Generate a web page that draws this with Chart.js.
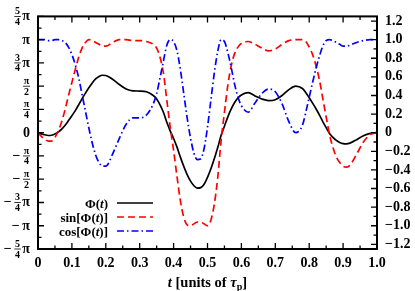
<!DOCTYPE html>
<html>
<head>
<meta charset="utf-8">
<script src="https://cdn.jsdelivr.net/npm/chart.js@4.4.0/dist/chart.umd.min.js"></script>
<style>
  html, body { margin: 0; padding: 0; background: #fff; }
</style>
</head>
<body>
<canvas id="chart" width="415" height="291"></canvas>
<script>
// time in units of the pulse duration
const t = [0, 0.01, 0.02, 0.03, 0.04, 0.05, 0.06, 0.07, 0.08, 0.09, 0.10, 0.11, 0.12, 0.13, 0.14, 0.15, 0.16, 0.17, 0.18, 0.19, 0.20,
  0.22, 0.24, 0.26, 0.28, 0.30, 0.32, 0.34,
  0.35, 0.36, 0.37, 0.38, 0.39, 0.40, 0.41, 0.42, 0.43, 0.44, 0.45, 0.46, 0.47, 0.48, 0.49, 0.50, 0.51, 0.52, 0.53, 0.54, 0.55, 0.56, 0.57, 0.58, 0.59, 0.60,
  0.62, 0.64, 0.66, 0.68, 0.70, 0.72, 0.74, 0.76, 0.78,
  0.79, 0.80, 0.81, 0.82, 0.83, 0.84, 0.85, 0.86, 0.87, 0.88, 0.89, 0.90, 0.91, 0.92,
  0.94, 0.96, 0.98, 1.00];

// Phi(t), in units of pi/4 (left axis)
const phi = [0, -0.05, -0.09, -0.12, -0.11, -0.06, 0.03, 0.15, 0.32, 0.52, 0.73, 0.95, 1.20, 1.46, 1.70, 1.93, 2.14, 2.31, 2.42, 2.47, 2.46,
  2.30, 2.07, 1.88, 1.80, 1.79, 1.76, 1.60,
  1.45, 1.20, 0.88, 0.45, 0.08, -0.25, -0.62, -1.05, -1.45, -1.80, -2.08, -2.28, -2.38, -2.36, -2.22, -1.92, -1.55, -1.12, -0.65, -0.12, 0.28, 0.68, 1.02, 1.30, 1.50, 1.62,
  1.72, 1.58, 1.45, 1.38, 1.42, 1.60, 1.85, 2.00, 1.90,
  1.72, 1.50, 1.27, 1.03, 0.77, 0.48, 0.22, -0.03, -0.20, -0.33, -0.42, -0.47, -0.48, -0.45,
  -0.30, -0.13, -0.03, 0];

// sin[Phi(t)] (right axis)
const sinPhi = [0, -0.04, -0.07, -0.09, -0.09, -0.05, 0.02, 0.12, 0.25, 0.40, 0.54, 0.68, 0.81, 0.91, 0.97, 1.0, 0.99, 0.97, 0.95, 0.93, 0.93,
  0.97, 1.0, 1.0, 0.99, 0.99, 0.98, 0.95,
  0.91, 0.81, 0.64, 0.35, 0.06, -0.19, -0.47, -0.73, -0.91, -0.99, -1.0, -0.98, -0.96, -0.96, -0.98, -1.0, -0.94, -0.77, -0.49, -0.09, 0.22, 0.51, 0.72, 0.85, 0.92, 0.96,
  0.98, 0.95, 0.91, 0.88, 0.90, 0.95, 0.99, 1.0, 1.0,
  0.98, 0.92, 0.84, 0.72, 0.57, 0.37, 0.17, -0.02, -0.16, -0.26, -0.32, -0.36, -0.37, -0.35,
  -0.23, -0.10, -0.02, 0];

// cos[Phi(t)] (right axis)
const cosPhi = [1, 1.0, 1.0, 0.99, 0.99, 1.0, 1.0, 0.99, 0.97, 0.92, 0.84, 0.73, 0.59, 0.41, 0.23, 0.05, -0.11, -0.24, -0.32, -0.36, -0.36,
  -0.23, -0.06, 0.09, 0.16, 0.16, 0.19, 0.31,
  0.42, 0.59, 0.77, 0.94, 1.0, 0.98, 0.88, 0.68, 0.42, 0.16, -0.06, -0.22, -0.29, -0.28, -0.17, 0.06, 0.35, 0.64, 0.87, 1.0, 0.98, 0.86, 0.70, 0.52, 0.38, 0.29,
  0.22, 0.32, 0.42, 0.47, 0.44, 0.31, 0.12, 0.0, 0.08,
  0.22, 0.38, 0.54, 0.69, 0.82, 0.93, 0.99, 1.0, 0.99, 0.97, 0.95, 0.93, 0.93, 0.94,
  0.97, 0.99, 1.0, 1.0];

const seriesNames = ['Φ(t)', 'sin[Φ(t)]', 'cos[Φ(t)]'];

const xTicks = [0, 0.1, 0.2, 0.3, 0.4, 0.5, 0.6, 0.7, 0.8, 0.9, 1.0];
const xTickLabels = ['0', '0.1', '0.2', '0.3', '0.4', '0.5', '0.6', '0.7', '0.8', '0.9', '1.0'];
const leftTicks = [5, 4, 3, 2, 1, 0, -1, -2, -3, -4, -5];
const leftTickLabels = ['5/4π', 'π', '3/4π', 'π/2', 'π/4', '0', '−π/4', '−π/2', '−3/4π', '−π', '−5/4π'];
const rightTicks = [1.2, 1.0, 0.8, 0.6, 0.4, 0.2, 0, -0.2, -0.4, -0.6, -0.8, -1.0, -1.2];
const rightTickLabels = ['1.2', '1.0', '0.8', '0.6', '0.4', '0.2', '0', '−0.2', '−0.4', '−0.6', '−0.8', '−1.0', '−1.2'];

const SERIF = '"Liberation Serif", "DejaVu Serif", serif';
function fontOf(size, italic) {
  return (italic ? 'italic ' : '') + 'bold ' + size + 'px ' + SERIF;
}

// draw a list of text runs, measured first so they can be aligned
function drawRuns(ctx, runs, x, y, align) {
  let w = 0;
  runs.forEach(r => {
    ctx.font = fontOf(r.size || 13, r.italic);
    r.w = ctx.measureText(r.s).width;
    w += r.w;
  });
  let cx = align === 'right' ? x - w : align === 'center' ? x - w / 2 : x;
  ctx.textAlign = 'left';
  ctx.textBaseline = 'alphabetic';
  runs.forEach(r => {
    ctx.font = fontOf(r.size || 13, r.italic);
    ctx.fillText(r.s, cx, y + (r.dy || 0));
    cx += r.w;
  });
}

// legend text: the variable t is italic
function mathRuns(str) {
  return str.split(/(t)/).filter(s => s.length).map(s => ({ s: s, italic: s === 't' }));
}

// left tick labels with stacked fractions like 3/4 π
function drawPiLabel(ctx, label, xRight, y) {
  let neg = label.startsWith('−');
  let body = neg ? label.slice(1) : label;
  let x = xRight;
  ctx.textAlign = 'left';
  ctx.textBaseline = 'alphabetic';
  if (body.indexOf('/') < 0) {
    ctx.font = fontOf(14, false);
    let w = ctx.measureText(body).width;
    x -= w;
    ctx.fillText(body, x, y + 4.5);
  } else {
    let parts = body.split('/');
    let num = parts[0];
    let den = parts[1].replace('π', '');
    let suffix = parts[1].endsWith('π') ? 'π' : '';
    if (suffix) {
      ctx.font = fontOf(14, false);
      let w = ctx.measureText(suffix).width;
      x -= w;
      ctx.fillText(suffix, x, y + 4);
      x -= 1.5;
    }
    ctx.font = fontOf(10, false);
    let wn = ctx.measureText(num).width;
    let wd = ctx.measureText(den).width;
    let fw = Math.max(wn, wd) + 1.5;
    let fx = x - fw;
    ctx.fillText(num, fx + (fw - wn) / 2, y - 2);
    ctx.fillText(den, fx + (fw - wd) / 2, y + 8.5);
    ctx.fillRect(fx, y - 0.4, fw, 0.8);
    x = fx;
  }
  if (neg) {
    ctx.font = fontOf(14, false);
    let w = ctx.measureText('−').width;
    ctx.fillText('−', x - w - 2.5, y + 4);
  }
}

const framePlugin = {
  id: 'frame',
  afterDraw(chart) {
    const ctx = chart.ctx;
    const a = chart.chartArea;
    const xs = chart.scales.x, yl = chart.scales.y, yr = chart.scales.y2;
    ctx.save();
    ctx.fillStyle = '#000';
    ctx.strokeStyle = '#000';

    // tick marks, pointing inwards on all four sides
    ctx.lineWidth = 1.3;
    ctx.beginPath();
    const major = 6, minor = 3.5;
    xTicks.forEach((v, i) => {
      const px = xs.getPixelForValue(v);
      ctx.moveTo(px, a.bottom); ctx.lineTo(px, a.bottom - major);
      ctx.moveTo(px, a.top); ctx.lineTo(px, a.top + major);
      if (i < xTicks.length - 1) {
        const pm = xs.getPixelForValue((v + xTicks[i + 1]) / 2);
        ctx.moveTo(pm, a.bottom); ctx.lineTo(pm, a.bottom - minor);
        ctx.moveTo(pm, a.top); ctx.lineTo(pm, a.top + minor);
      }
    });
    leftTicks.forEach((v, i) => {
      const py = yl.getPixelForValue(v);
      ctx.moveTo(a.left, py); ctx.lineTo(a.left + major, py);
      if (i < leftTicks.length - 1) {
        const pm = yl.getPixelForValue((v + leftTicks[i + 1]) / 2);
        ctx.moveTo(a.left, pm); ctx.lineTo(a.left + minor, pm);
      }
    });
    rightTicks.forEach((v, i) => {
      const py = yr.getPixelForValue(v);
      ctx.moveTo(a.right, py); ctx.lineTo(a.right - major, py);
      if (i < rightTicks.length - 1) {
        const pm = yr.getPixelForValue((v + rightTicks[i + 1]) / 2);
        ctx.moveTo(a.right, pm); ctx.lineTo(a.right - minor, pm);
      }
    });
    ctx.stroke();

    ctx.lineWidth = 2;
    ctx.strokeRect(a.left, a.top, a.right - a.left, a.bottom - a.top);

    // left axis labels in multiples of pi
    leftTicks.forEach((v, i) => {
      drawPiLabel(ctx, leftTickLabels[i], a.left - 8, yl.getPixelForValue(v));
    });

    // x axis title
    drawRuns(ctx, [
      { s: 't', italic: true, size: 14.5 },
      { s: ' [units of ', size: 14.5 },
      { s: 'τ', italic: true, size: 14.5 },
      { s: 'p', size: 10, dy: 3 },
      { s: ']', size: 14.5 }
    ], (a.left + a.right) / 2, 287, 'center');

    // legend inside the plot, text right aligned, sample to the right
    chart.data.datasets.forEach((ds, i) => {
      const yy = 203 + i * 14;
      drawRuns(ctx, mathRuns(ds.label), 108, yy + 4.5, 'right');
      ctx.beginPath();
      ctx.lineWidth = ds.borderWidth;
      ctx.strokeStyle = ds.borderColor;
      ctx.setLineDash(ds.borderDash || []);
      ctx.moveTo(117, yy);
      ctx.lineTo(153, yy);
      ctx.stroke();
      ctx.setLineDash([]);
    });
    ctx.restore();
  }
};

const pts = arr => t.map((v, i) => ({ x: v, y: arr[i] }));

new Chart(document.getElementById('chart'), {
  type: 'line',
  data: {
    datasets: [
      { label: seriesNames[0], data: pts(phi), yAxisID: 'y', borderColor: '#000000', borderWidth: 1.7, order: 2 },
      { label: seriesNames[1], data: pts(sinPhi), yAxisID: 'y2', borderColor: '#ff0000', borderWidth: 1.7, borderDash: [7, 4], order: 1 },
      { label: seriesNames[2], data: pts(cosPhi), yAxisID: 'y2', borderColor: '#0000ff', borderWidth: 1.7, borderDash: [7, 3, 1.5, 3], order: 0 }
    ]
  },
  options: {
    responsive: false,
    animation: false,
    devicePixelRatio: 1,
    layout: { padding: { top: 15, left: 0, right: 0, bottom: 0 } },
    elements: {
      point: { radius: 0 },
      line: { cubicInterpolationMode: 'monotone', fill: false }
    },
    plugins: { legend: { display: false }, tooltip: { enabled: false } },
    scales: {
      x: {
        type: 'linear', min: 0, max: 1,
        grid: { display: false, drawTicks: false },
        border: { display: false },
        afterBuildTicks: s => { s.ticks = xTicks.map(v => ({ value: v })); },
        afterFit: s => { s.height = 42; },
        ticks: {
          color: '#000', padding: 6, maxRotation: 0, autoSkip: false,
          font: { family: SERIF, size: 14, weight: 'bold' },
          callback: (v, i) => xTickLabels[i]
        }
      },
      y: {
        position: 'left', min: -5, max: 5,
        grid: { display: false, drawTicks: false },
        border: { display: false },
        afterBuildTicks: s => { s.ticks = leftTicks.map(v => ({ value: v })); },
        afterFit: s => { s.width = 38; },
        ticks: { display: false }
      },
      y2: {
        position: 'right', min: -1.25, max: 1.25,
        grid: { display: false, drawTicks: false },
        border: { display: false },
        afterBuildTicks: s => { s.ticks = rightTicks.map(v => ({ value: v })); },
        afterFit: s => { s.width = 38; },
        ticks: {
          color: '#000', padding: 8, autoSkip: false,
          font: { family: SERIF, size: 14, weight: 'bold' },
          callback: (v, i) => rightTickLabels[i]
        }
      }
    }
  },
  plugins: [framePlugin]
});
</script>
</body>
</html>
